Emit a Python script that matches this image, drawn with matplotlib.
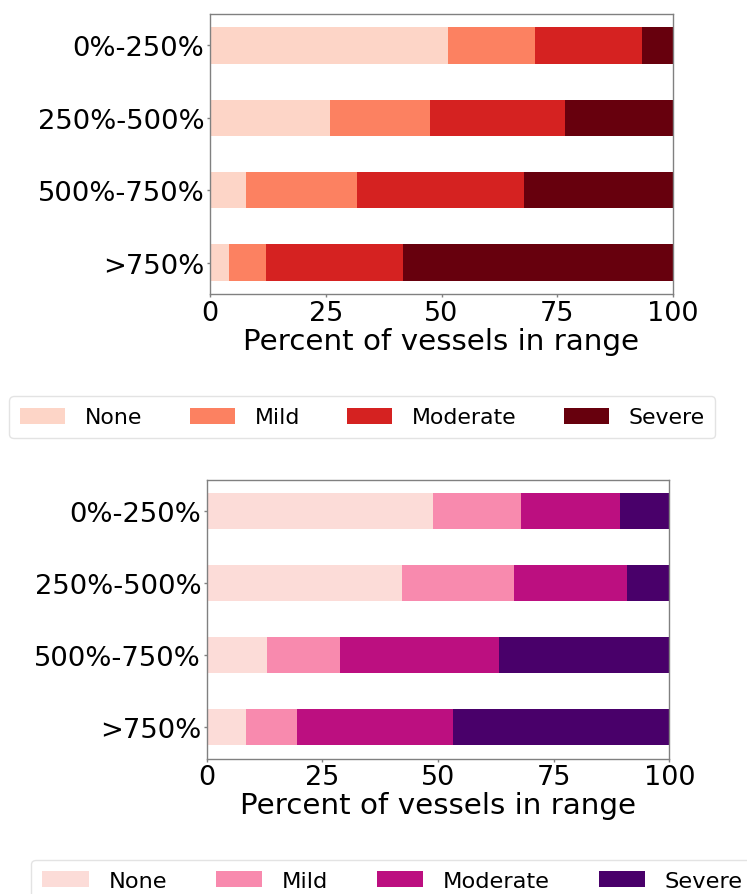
import matplotlib
matplotlib.use("Agg")
import matplotlib.pyplot as plt
import numpy as np

ranges = ["0%-250%", "250%-500%", "500%-750%", ">750%"]
levels = ["None", "Mild", "Moderate", "Severe"]

# Percent of vessels per severity level, one list per range bin
top_none = [51.3, 25.9, 7.8, 4.0]
top_mild = [19.0, 21.7, 24.0, 8.1]
top_moderate = [23.0, 29.0, 36.1, 29.6]
top_severe = [6.7, 23.4, 32.1, 58.3]

bottom_none = [48.9, 42.2, 13.0, 8.5]
bottom_mild = [19.0, 24.3, 15.8, 11.0]
bottom_moderate = [21.4, 24.4, 34.3, 33.7]
bottom_severe = [10.7, 9.1, 36.9, 46.8]

xticks = [0, 25, 50, 75, 100]

reds = ["#fdd5c7", "#fc8161", "#d52221", "#67000d"]
rdpu = ["#fcdcd8", "#f88aae", "#bc0f80", "#49006a"]

W, H = 747, 895
fig = plt.figure(figsize=(W / 100, H / 100), dpi=100)


def panel(rect, series, colors, legend_corner, legend_size):
    ax = fig.add_axes(rect)
    y = np.arange(len(ranges))
    left = np.zeros(len(ranges))
    handles = []
    for name, vals, col in zip(levels, series, colors):
        vals = np.asarray(vals)
        h = ax.barh(y, vals, left=left, height=0.5, color=col, label=name)
        handles.append(h)
        left = left + vals
    ax.set_xlim(0, 100)
    ax.set_ylim(3.435, -0.435)
    ax.set_yticks(y)
    ax.set_yticklabels(ranges, fontsize=19.7)
    ax.set_xticks(xticks)
    ax.set_xticklabels([str(t) for t in xticks], fontsize=19.5)
    ax.set_xlabel("Percent of vessels in range", fontsize=21.2, labelpad=1)
    for s in ax.spines.values():
        s.set_color("#808080")
        s.set_linewidth(1.0)
    ax.tick_params(axis="both", length=2, width=1, color="#808080", pad=2)
    fig.legend(handles, levels, loc="upper left", ncol=4, fontsize=legend_size,
               bbox_to_anchor=legend_corner, bbox_transform=fig.transFigure,
               borderaxespad=0, borderpad=0.5, handlelength=2.05,
               handleheight=0.73, handletextpad=0.9, columnspacing=2.15,
               frameon=True, edgecolor="#dddddd")
    return ax


panel([210 / W, 1 - 295 / H, 463 / W, 280 / H],
      [top_none, top_mild, top_moderate, top_severe], reds,
      (9.5 / W, 1 - 397.3 / H), 15.8)
panel([206.7 / W, 1 - 759.5 / H, 462.6 / W, 279 / H],
      [bottom_none, bottom_mild, bottom_moderate, bottom_severe], rdpu,
      (31.2 / W, 1 - 860.7 / H), 16.2)

fig.savefig("out.png", dpi=100)
